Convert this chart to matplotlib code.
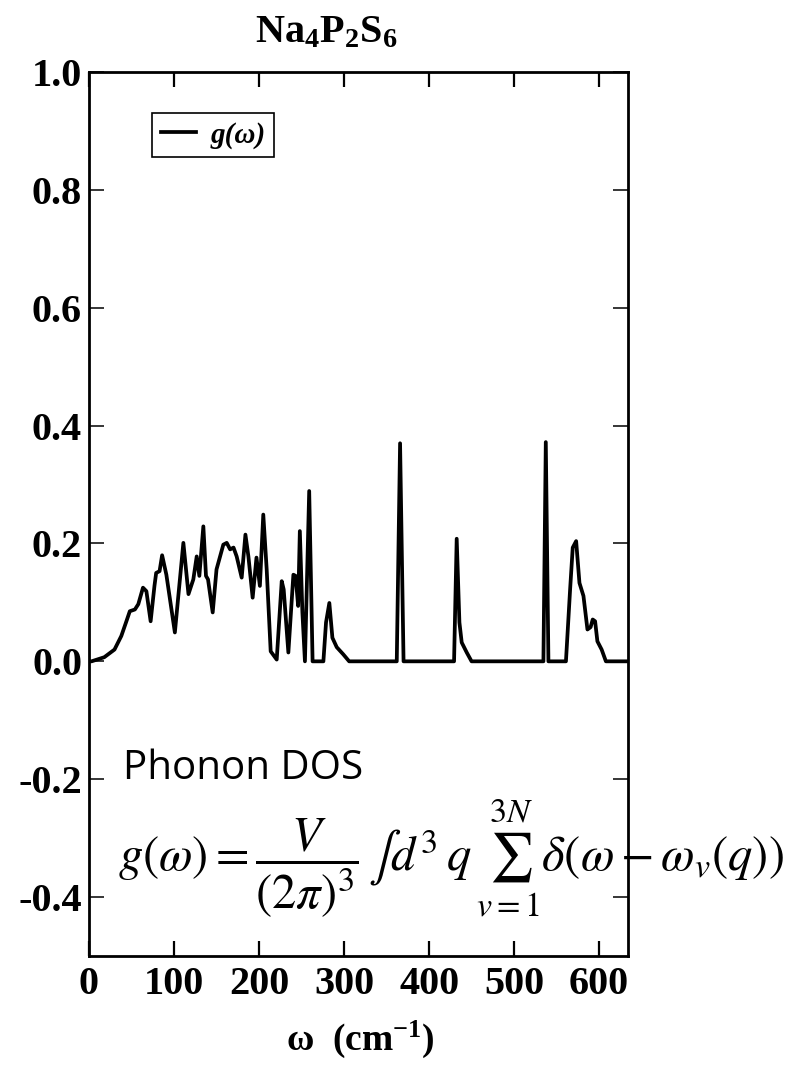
import numpy as np
import matplotlib
matplotlib.use("Agg")
from matplotlib import pyplot as plt
from matplotlib.font_manager import FontProperties

# phonon DOS (frequency in cm^-1, g(w))
freq = [0, 3, 18, 30, 38, 44, 48, 54, 58, 63.5, 67.5, 72.5, 77, 79, 83, 86, 91,
        101, 111, 117, 122.7, 126.7, 129.8, 134.5, 137.6, 140, 145.5, 150, 158,
        162, 166, 170, 173.7, 179.6, 184, 187.5, 192.5, 197, 201, 205, 209,
        213.7, 220.8, 226.7, 229, 234.5, 240.4, 243, 246, 248, 251, 254, 259,
        263, 275.7, 278.8, 282.7, 286.3, 291.4, 299, 306, 362, 365.9, 370,
        429.4, 432.5, 435.7, 438.4, 444.3, 450, 534.5, 537.3, 540.4, 561,
        565.9, 569, 573, 576.9, 581.6, 586.3, 590, 592.5, 595.3, 598, 603,
        608, 635]
dos = [0, 0, 0.007, 0.02, 0.043, 0.068, 0.085, 0.088, 0.097, 0.125, 0.119,
       0.068, 0.128, 0.15, 0.153, 0.18, 0.147, 0.049, 0.201, 0.114, 0.139,
       0.178, 0.145, 0.229, 0.145, 0.139, 0.083, 0.156, 0.198, 0.201, 0.19,
       0.193, 0.178, 0.142, 0.215, 0.178, 0.108, 0.176, 0.128, 0.249, 0.156,
       0.017, 0.003, 0.136, 0.122, 0.015, 0.147, 0.145, 0.094, 0.221, 0.083,
       0.0, 0.289, 0.0, 0, 0.066, 0.099, 0.04, 0.024, 0.012, 0, 0, 0.37, 0,
       0, 0.208, 0.066, 0.032, 0.015, 0, 0, 0.372, 0, 0, 0.122, 0.193, 0.204,
       0.133, 0.111, 0.054, 0.058, 0.071, 0.068, 0.034, 0.02, 0, 0]

xticks = [0, 100, 200, 300, 400, 500, 600]
yticks = [-0.4, -0.2, 0.0, 0.2, 0.4, 0.6, 0.8, 1.0]

plt.rcParams['font.family'] = 'Liberation Serif'
plt.rcParams['mathtext.fontset'] = 'custom'
plt.rcParams['mathtext.rm'] = 'Liberation Serif:bold'
plt.rcParams['mathtext.it'] = 'Liberation Serif:italic:bold'
plt.rcParams['mathtext.bf'] = 'Liberation Serif:bold'

fig = plt.figure(figsize=(7.95, 10.67), dpi=100)
ax = fig.add_axes([89 / 795, 1 - 956 / 1067, 539 / 795, 884 / 1067])

ax.plot(freq, dos, color='black', lw=2.7, label='g(ω)')
ax.set_xlim(0, 634)
ax.set_ylim(-0.5, 1.0)
ax.set_xticks(xticks)
ax.set_yticks(yticks)
ax.set_xticklabels([str(v) for v in xticks], fontweight='bold')
ax.set_yticklabels(['%.1f' % v for v in yticks], fontweight='bold')
for s in ax.spines.values():
    s.set_linewidth(2)
ax.tick_params(axis='x', direction='in', top=True, length=11, width=1.6,
               labelsize=29, pad=7)
ax.tick_params(axis='y', direction='in', right=True, length=11, width=1.1,
               labelsize=29, pad=5)

leg = ax.legend(loc='upper left', bbox_to_anchor=(0.117, 0.954),
                prop=FontProperties(family='Liberation Serif', style='italic',
                                    weight='bold', size=21),
                fancybox=False, framealpha=1, edgecolor='black',
                handlelength=1.2, handletextpad=0.5, borderpad=0.3,
                borderaxespad=0)
leg.get_frame().set_linewidth(1.2)

fig.text(326 / 795, 1 - 42 / 1067, r'$\mathrm{Na_4P_2S_6}$', fontsize=29,
         ha='center', va='baseline', math_fontfamily='custom')
fig.text(360 / 795, 1 - 1050 / 1067, r'ω  (cm$^{-1}$)', fontsize=27,
         fontweight='bold', ha='center', va='baseline',
         math_fontfamily='custom')

ax.text(40, -0.182, 'Phonon DOS', family='Open Sans', fontsize=29,
        va='center', ha='left', zorder=1, clip_on=False)
ax.text(34, -0.335,
        r'$g(\omega) = \dfrac{V}{(2\pi)^3}\,\int d^3\, q\, \sum_{v=1}^{3N}'
        r'\delta\left(\omega - \omega_v(q)\right)$',
        fontsize=35, va='center', ha='left', zorder=1,
        clip_on=False, math_fontfamily='stix')

fig.savefig('out.png', dpi=100)
